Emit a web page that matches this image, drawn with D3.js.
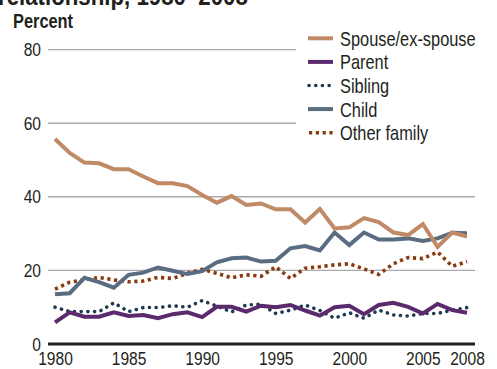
<!DOCTYPE html>
<html>
<head>
<meta charset="utf-8">
<script src="https://cdn.jsdelivr.net/npm/d3@7/dist/d3.min.js"></script>
<style>
  html, body { margin: 0; padding: 0; background: #fff; }
  svg { display: block; }
  text { font-family: "Liberation Sans", Arial, sans-serif; fill: #231f20; }
</style>
</head>
<body>
<svg id="chart" width="497" height="369"></svg>
<script>
// Family violence victims by relationship to offender, percent of total
const years = d3.range(1980, 2009);
const spouse = [55.7, 51.9, 49.3, 49.1, 47.5, 47.5, 45.5, 43.7, 43.7, 42.9, 40.5, 38.4, 40.2, 37.8, 38.2, 36.6, 36.6, 33.0, 36.7, 31.4, 31.7, 34.2, 33.1, 30.3, 29.6, 32.6, 26.4, 30.3, 29.2];
const parent = [5.9, 8.6, 7.4, 7.4, 8.6, 7.6, 7.9, 7.0, 8.1, 8.6, 7.3, 10.1, 10.1, 8.8, 10.4, 10.0, 10.6, 9.1, 7.7, 10.0, 10.4, 8.1, 10.6, 11.2, 10.1, 8.3, 10.9, 9.2, 8.5];
const sibling = [10.0, 8.8, 8.8, 8.8, 11.2, 8.8, 9.9, 9.9, 10.4, 10.0, 11.8, 10.3, 8.7, 10.6, 10.8, 8.3, 9.2, 10.6, 9.1, 7.0, 8.5, 7.0, 9.2, 7.9, 7.6, 8.3, 8.3, 9.2, 9.9];
const child = [13.5, 13.8, 18.0, 16.8, 15.3, 18.8, 19.4, 20.8, 19.9, 19.0, 19.8, 22.2, 23.3, 23.5, 22.4, 22.6, 26.0, 26.6, 25.4, 30.3, 26.9, 30.3, 28.4, 28.4, 28.7, 28.0, 28.7, 30.2, 30.1];
const otherFamily = [14.9, 16.8, 17.5, 18.1, 17.4, 16.9, 17.1, 18.1, 17.8, 19.2, 20.3, 19.2, 18.0, 18.8, 18.4, 21.0, 17.8, 20.6, 21.0, 21.5, 21.8, 20.4, 18.9, 21.8, 23.5, 23.2, 25.0, 21.1, 22.4];

const yTicks = [0, 20, 40, 60, 80];
const xTicks = [1980, 1985, 1990, 1995, 2000, 2005, 2008];

const series = [
  { name: "Spouse/ex-spouse", values: spouse, color: "#c18a66", width: 4, dash: null, cap: "butt" },
  { name: "Parent", values: parent, color: "#5a2a6c", width: 4, dash: null, cap: "butt" },
  { name: "Sibling", values: sibling, color: "#1e3a50", width: 3.6, dash: "0.1 6.6", cap: "round" },
  { name: "Child", values: child, color: "#5a6d80", width: 4, dash: null, cap: "butt" },
  { name: "Other family", values: otherFamily, color: "#8a3a0e", width: 3.6, dash: "3.2 3.6", cap: "butt" }
];

// Condensed lettering: squeeze a text horizontally around its own anchor x
const NARROW = 0.82;
function narrow(sel, k = NARROW) {
  sel.each(function () {
    const t = d3.select(this);
    const x0 = +t.attr("x") || 0;
    t.attr("x", x0 / k).attr("transform", `scale(${k},1)`);
  });
}

const svg = d3.select("#chart");

const x = d3.scaleLinear().domain([1980, 2008]).range([55, 467]);
const y = d3.scaleLinear().domain([0, 80]).range([344, 49.6]);

// Title (second line, running off the top edge) and unit label
const title = svg.append("text")
  .attr("x", -2).attr("y", 5)
  .attr("font-size", 25).attr("font-weight", "bold")
  .text("relationship, 1980–2008");
{
  const w = title.node().getComputedTextLength();
  narrow(title, 250 / w);
}

svg.append("text")
  .attr("x", 13).attr("y", 28)
  .attr("font-size", 20).attr("font-weight", "bold")
  .text("Percent")
  .call(narrow);

// Horizontal gridlines
svg.append("g")
  .selectAll("line")
  .data(yTicks.filter(d => d > 0))
  .join("line")
  .attr("x1", 48).attr("x2", 475)
  .attr("y1", d => y(d)).attr("y2", d => y(d))
  .attr("stroke", "#a8aaad").attr("stroke-width", 1.4);

// Y axis labels
const yAxis = svg.append("g")
  .attr("transform", "translate(48,0)")
  .call(d3.axisLeft(y).tickValues(yTicks).tickSize(0).tickPadding(7).tickFormat(d3.format("d")));
yAxis.attr("font-family", null).attr("font-size", null);
yAxis.select(".domain").remove();
yAxis.selectAll("text")
  .attr("font-size", 19)
  .attr("fill", "#231f20")
  .call(narrow);

// X axis labels
const xAxis = svg.append("g")
  .attr("transform", `translate(0,${y(0)})`)
  .call(d3.axisBottom(x).tickValues(xTicks).tickSize(0).tickPadding(8).tickFormat(d3.format("d")));
xAxis.attr("font-family", null).attr("font-size", null);
xAxis.select(".domain").remove();
xAxis.selectAll("text")
  .attr("font-size", 19)
  .attr("fill", "#231f20")
  .call(narrow);

// Legend backdrop hides the gridlines behind the key
svg.append("rect")
  .attr("x", 296).attr("y", 26).attr("width", 201).attr("height", 118)
  .attr("fill", "#fff");

// Baseline at zero
svg.append("line")
  .attr("x1", 48).attr("x2", 475)
  .attr("y1", y(0)).attr("y2", y(0))
  .attr("stroke", "#231f20").attr("stroke-width", 3);

// Lines
const line = d3.line()
  .x((d, i) => x(years[i]))
  .y(d => y(d));

const drawOrder = ["Other family", "Sibling", "Parent", "Child", "Spouse/ex-spouse"];
svg.append("g")
  .selectAll("path")
  .data(drawOrder.map(n => series.find(s => s.name === n)))
  .join("path")
  .attr("d", d => line(d.values))
  .attr("fill", "none")
  .attr("stroke", d => d.color)
  .attr("stroke-width", d => d.width)
  .attr("stroke-dasharray", d => d.dash)
  .attr("stroke-linecap", d => d.cap)
  .attr("stroke-linejoin", "miter");

// Legend
const legend = svg.append("g");
const rowY = d3.scalePoint().domain(series.map(s => s.name)).range([38.3, 132.7]);
const items = legend.selectAll("g")
  .data(series)
  .join("g")
  .attr("transform", d => `translate(0,${rowY(d.name)})`);
items.append("line")
  .attr("x1", d => d.dash ? 309 : 308).attr("x2", 333)
  .attr("y1", 0).attr("y2", 0)
  .attr("stroke", d => d.color)
  .attr("stroke-width", d => d.width)
  .attr("stroke-dasharray", d => d.dash)
  .attr("stroke-linecap", d => d.cap);
items.append("text")
  .attr("x", 340).attr("y", 7.5)
  .attr("font-size", 20)
  .text(d => d.name)
  .call(narrow);
</script>
</body>
</html>
